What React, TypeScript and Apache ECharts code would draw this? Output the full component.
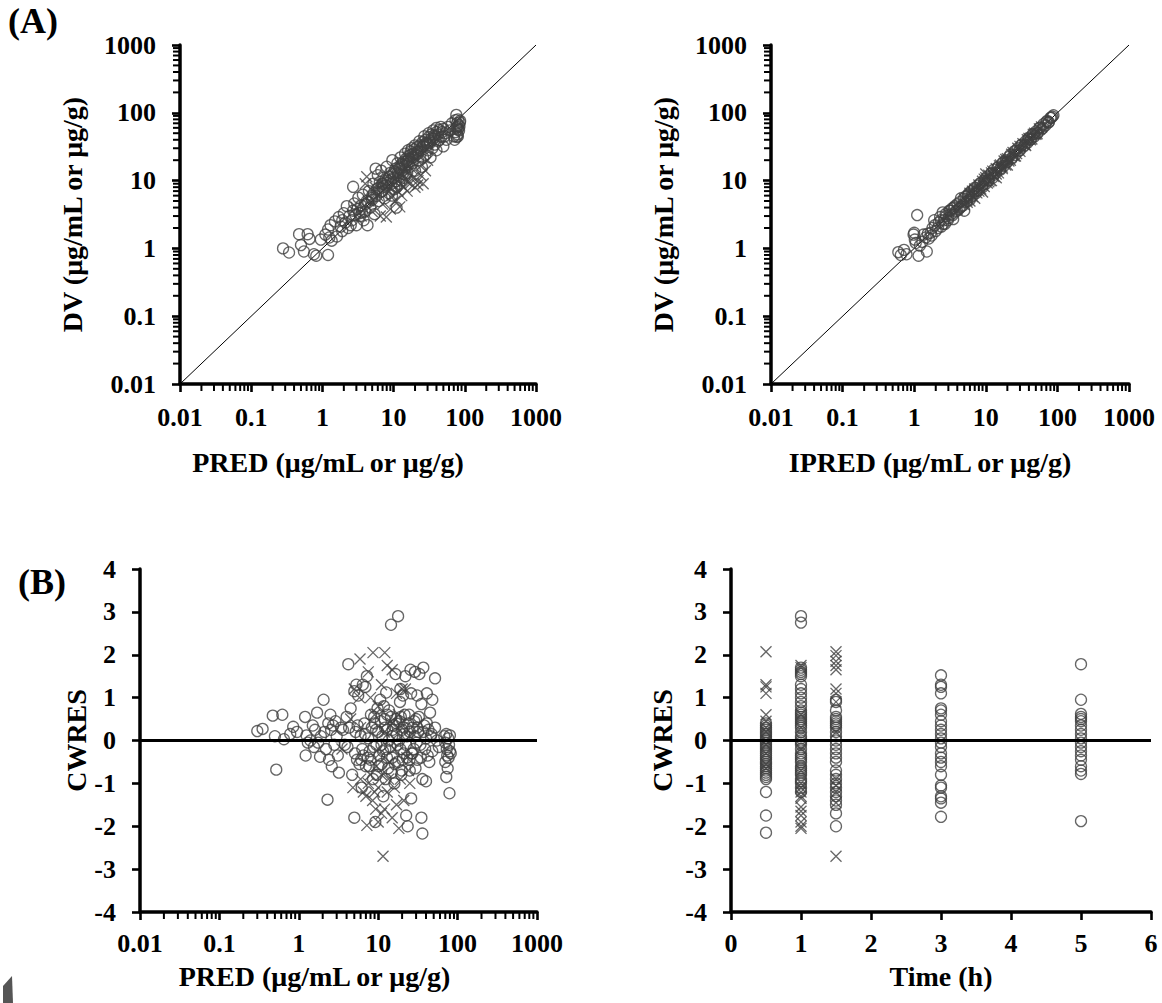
import React, { useEffect, useRef } from 'react';
import * as echarts from 'echarts';

// ---------- tick labels ----------
const LOG_TICK_LABELS = ['0.01', '0.1', '1', '10', '100', '1000'];
const LOG_DECADES = [0.01, 0.1, 1, 10, 100];
const LOG_MINOR_STEPS = [2, 3, 4, 5, 6, 7, 8, 9];
const IDENTITY_LINE = [0.01, 1000];
const PRED_RANGE = [0.01, 1000];
const TIME_RANGE = [0, 6];
const CWRES_RANGE = [-4, 4];

// ---------- (A) left: PRED vs DV ----------
const A1_CIRCLES: [number, number][] = [
  [0.28, 1.0], [0.34, 0.87], [0.47, 1.62], [0.5, 1.12], [0.55, 0.9], [0.62, 1.62], [0.66, 1.38], [0.76, 0.82],
  [0.82, 0.78], [0.95, 1.35], [1.2, 0.8], [1.1, 1.6], [1.2, 1.9], [1.25, 1.45], [1.3, 2.2], [1.35, 1.3],
  [1.5, 2.5], [1.6, 1.5], [1.7, 2.9], [1.8, 2.1], [1.9, 1.8], [2.0, 3.3], [2.1, 2.4], [2.2, 4.2], [2.3, 2.0],
  [2.4, 3.0], [2.7, 8.1], [2.6, 2.6], [2.7, 3.6], [2.8, 4.6], [3.0, 2.2], [3.1, 3.8], [3.2, 5.6], [3.4, 3.0],
  [3.5, 4.3], [3.7, 6.2], [3.8, 2.6], [4.0, 3.5], [4.2, 5.0], [4.3, 2.2], [4.5, 7.0], [4.7, 4.0], [5.0, 6.0],
  [5.2, 9.0], [5.4, 3.2], [5.6, 15], [5.8, 7.5], [6.0, 12], [6.2, 5.0], [6.4, 9.5], [6.7, 14], [7.0, 7.0],
  [7.2, 11], [7.5, 5.5], [7.8, 8.5], [8.0, 16], [8.3, 10], [8.6, 6.5], [9.0, 13], [9.3, 9], [9.6, 20],
  [10, 11], [10.3, 7.5], [10.6, 15], [11, 4.0], [11.3, 18], [11.6, 12], [12, 9], [12.5, 22], [13, 14],
  [13.5, 17], [14, 11], [14.5, 25], [15, 19], [15.5, 13], [16, 28], [16.5, 21], [17, 16], [17.5, 24],
  [18, 30], [18.5, 18], [19, 22], [20, 33], [20, 14], [21, 26], [22, 20], [23, 38], [24, 28], [25, 16],
  [26, 32], [27, 45], [28, 24], [29, 36], [30, 28], [31, 50], [32, 38], [33, 22], [34, 42], [35, 30],
  [36, 55], [37, 46], [38, 34], [40, 60], [40, 28], [42, 48], [44, 40], [46, 62], [48, 52], [50, 32],
  [52, 45], [55, 40], [70, 45], [72, 40], [74, 52], [76, 60], [78, 70], [79, 48], [80, 80], [82, 66],
  [76, 93], [85, 72], [80, 45], [83, 55], [78, 62], [9.5, 6], [11, 8], [13, 10], [15, 12], [7, 9],
  [5, 5.2], [4, 4.5], [3.3, 3.3], [2.5, 2.2], [1.9, 2.6], [12, 15], [16, 20], [22, 25], [26, 22], [30, 35],
  [2.9, 3.1], [3.6, 3.4], [4.4, 4.8], [4.9, 5.5], [5.3, 6.6], [5.7, 5.9], [6.1, 7.8], [6.6, 6.8], [6.9, 9.0],
  [7.3, 8.2], [7.7, 10.5], [8.1, 9.2], [8.8, 11.5], [9.2, 10.2], [9.8, 12.5], [10.2, 13.5], [10.8, 9.8],
  [11.4, 13], [11.9, 16], [12.4, 14.8], [12.9, 17.5], [13.4, 12.5], [13.9, 19], [14.4, 16.5], [14.9, 21],
  [15.6, 17.5], [16.2, 23], [16.8, 19], [17.4, 27], [18.2, 22], [18.9, 25], [19.6, 29], [20.5, 24],
  [21.3, 31], [22.3, 27], [23.3, 33], [24.4, 30], [25.6, 37], [26.8, 34], [28.2, 40], [29.5, 33], [31, 44],
  [32.5, 36], [34, 48], [36, 41], [38, 44], [40, 52], [42, 38], [44, 56], [47, 44], [50, 58], [53, 50],
  [58, 62], [62, 55], [66, 70], [74, 78], [77, 44], [81, 58], [84, 63], [86, 76],
];
const A1_CROSSES: [number, number][] = [
  [3.0, 4.0], [3.5, 3.0], [4.2, 11.4], [4.5, 5], [5, 3.5], [5.5, 8], [6, 6], [6.5, 3.0], [7, 4.5],
  [7.5, 9], [7.9, 2.9], [8.5, 7], [9, 3.8], [9.5, 6], [10, 8.5], [10.5, 5], [11, 11], [11.5, 7],
  [12.2, 4.1], [12.5, 9], [13, 6], [13.5, 12], [14, 8], [15, 10], [15.5, 7], [16, 13], [17, 9], [18, 15],
  [19, 11], [20, 8], [21.8, 8.6], [22, 10], [24, 12], [25, 17], [26, 9], [28, 14], [30, 20], [4.0, 9],
];

// ---------- (A) right: IPRED vs DV ----------
const A2_CIRCLES: [number, number][] = [
  [0.6, 0.88], [0.65, 0.8], [0.72, 0.95], [0.78, 0.82], [0.98, 1.6], [1.0, 1.7], [1.02, 1.35], [1.05, 1.2],
  [1.1, 3.1], [1.15, 0.78], [1.3, 1.25], [1.45, 1.45], [1.5, 0.9], [1.6, 1.4], [1.7, 1.7], [1.8, 2.0],
  [1.9, 2.6], [2.0, 1.8], [2.2, 2.4], [2.3, 2.9], [2.4, 2.1], [2.5, 3.4], [2.6, 2.6], [2.8, 3.0], [3.0, 2.8],
  [3.1, 3.6], [3.3, 3.2], [3.5, 2.7], [3.6, 4.0], [3.8, 3.5], [4.0, 4.5], [4.2, 3.8], [4.5, 5.5], [4.8, 4.3],
  [5.0, 3.6], [5.2, 5.8], [5.5, 5.0], [5.8, 6.5], [6.0, 5.2], [6.3, 7.0], [6.6, 6.0], [7.0, 7.8], [7.3, 6.5],
  [7.7, 8.4], [8.0, 7.2], [8.5, 9.3], [9, 8.0], [9.5, 10], [10, 9], [10.5, 11.5], [11, 10], [12, 13],
  [12.5, 11], [13, 14.5], [14, 13], [15, 16], [16, 14.5], [17, 18], [18, 16.5], [19, 20], [20, 19],
  [22, 24], [23, 21], [25, 27], [26, 24], [28, 30], [30, 28], [32, 34], [34, 32], [36, 38], [38, 36],
  [40, 43], [42, 40], [45, 48], [48, 45], [50, 53], [53, 50], [56, 60], [60, 57], [64, 68], [68, 65],
  [72, 76], [76, 73], [80, 84], [85, 88], [88, 92], [2.7, 2.3], [3.4, 3.9], [4.4, 4.0], [5.6, 6.0],
  [1.2, 1.1], [1.35, 1.6], [1.55, 1.65], [1.75, 1.55], [1.95, 2.2], [2.15, 2.0], [2.35, 2.6], [2.55, 2.3],
  [2.75, 3.2], [2.95, 2.6], [3.2, 3.6], [3.45, 3.1], [3.7, 4.2], [3.95, 3.6], [4.3, 4.8], [4.6, 4.2],
  [4.9, 5.4], [5.3, 4.8], [5.7, 6.2], [6.2, 5.7], [6.8, 7.4], [7.5, 7.0], [8.2, 8.9], [9, 8.5], [9.8, 10.6],
  [10.8, 10.1], [11.8, 12.6], [13, 12.2], [14.5, 15.4], [16, 15], [17.5, 18.6], [19.5, 18.4], [21, 22.4],
  [23.5, 22], [26, 27.6], [29, 27.5], [31, 33], [35, 33.5], [39, 41], [43, 41], [47, 49], [52, 50],
  [58, 61], [63, 60], [70, 73], [75, 72], [82, 85],
];
const A2_CROSSES: [number, number][] = [
  [3, 3.2], [4, 3.7], [5, 5.4], [5.5, 4.8], [6, 6.5], [6.5, 5.8], [7, 7.5], [7.5, 6.6], [8, 8.6], [8.5, 7.5],
  [9, 9.8], [9.5, 8.2], [10, 11], [10.5, 9.2], [11, 12], [11.5, 10], [12, 13], [13, 11.5], [14, 15], [15, 13],
  [16, 17], [17, 15], [18, 19.5], [19, 17], [20, 21], [22, 20], [24, 26], [26, 23], [28, 30], [30, 27],
  [33, 35], [36, 33], [40, 42], [44, 41], [48, 50], [52, 49], [56, 58], [7, 5.5], [9, 6.8], [14, 11],
  [10, 12.5], [12, 10], [6, 5.0], [20, 17], [25, 23], [5, 4.4], [6.5, 7.0], [8, 7.0], [9.5, 10.5],
  [11, 9.6], [12.5, 13.8], [14, 12.5], [15.5, 16.5], [17, 15.8], [19, 20.5], [21, 19.5], [23, 24.5],
  [27, 25], [30, 32], [35, 34], [38, 40], [42, 40], [46, 48], [50, 48], [60, 62],
];

// ---------- (B) left: PRED vs CWRES ----------
const B1_CIRCLES: [number, number][] = [
  [0.3, 0.22], [0.35, 0.27], [0.47, 0.58], [0.5, 0.1], [0.52, -0.68], [0.62, 0.6], [0.65, 0.03], [0.78, 0.15],
  [0.85, 0.32], [0.95, 0.2], [1.2, 0.55], [1.22, -0.35], [1.25, 0.12], [1.3, -0.05], [1.4, 0.0], [1.5, 0.35],
  [1.55, -0.15], [1.6, 0.25], [1.7, 0.65], [1.75, -0.05], [1.85, -0.38], [1.9, 0.1], [2.05, 0.95], [2.1, 0.2],
  [2.2, -0.2], [2.3, -1.38], [2.35, 0.4], [2.4, -0.45], [2.5, 0.6], [2.55, 0.25], [2.6, -0.6], [2.7, 0.35],
  [2.8, -0.1], [2.9, 0.45], [3.0, 0.1], [3.1, -0.35], [3.2, -0.75], [3.4, 0.3], [3.6, 0.25], [3.8, -0.1],
  [4.0, 0.55], [4.1, -0.15], [4.2, 1.78], [4.3, 0.3], [4.5, 0.75], [4.7, -0.8], [5.0, 1.15], [5.1, -0.3],
  [5.2, 0.2], [5.4, -0.45], [5.0, -1.8], [5.6, 1.05], [5.8, -0.55], [6.0, 0.1], [6.2, -1.1], [6.4, 1.3],
  [6.5, -0.35], [6.7, 0.4], [6.9, 1.25], [7.0, -0.6], [7.2, 1.5], [7.5, 0.05], [7.8, -0.25], [8.0, -0.45],
  [8.3, 0.3], [8.6, -0.9], [8.9, 0.55], [9.2, -1.9], [9.5, -0.1], [9.8, 0.75], [10, 0.2], [10.3, -0.35],
  [10.6, 0.95], [11, -0.55], [11.3, 0.1], [11.6, -1.3], [12, 0.5], [12.3, -0.2], [12.6, 1.12], [13, 0.25],
  [13.3, -0.65], [13.6, 0.0], [14.5, 2.7], [14.5, 0.55], [15, -0.4], [15.5, 0.35], [16, -1.0], [16.5, 1.55],
  [17, 0.15], [17.5, -0.1], [17.8, 2.9], [18, -0.5], [18.5, 0.45], [19, 1.2], [19.5, -0.8], [20, 0.25],
  [20.5, 1.05], [21, -0.3], [21.5, 0.6], [22, 1.5], [22.5, -1.75], [23, 0.1], [23.5, -2.0], [24, 0.4],
  [25, -0.7], [25.5, 1.65], [26, -1.35], [27, 0.3], [28, -0.2], [29, 1.6], [30, 0.5], [31, -0.45],
  [32, 0.2], [33, 1.55], [34, -0.1], [35, 0.85], [36, -0.9], [37, 1.7], [38, 0.35], [35, -1.8],
  [40, -0.95], [40, 0.05], [41, 1.1], [42, -0.35], [43, 0.25], [45, 0.65], [36, -2.17], [47, 0.15],
  [48, -0.25], [48, 0.95], [52, 0.3], [52, 1.45], [55, 0.0], [58, -0.15], [68, 0.1], [70, -0.05],
  [70, -0.5], [72, -0.85], [72, 0.15], [73, -0.2], [74, -0.35], [75, -0.65], [76, 0.05], [77, -0.4],
  [78, -0.1], [79, -1.23], [80, 0.12], [80, -0.25], [82, -0.3], [9, 0.4], [11, -0.1], [13, 0.6],
  [15, 0.1], [17, 0.4], [19, -0.2], [21, 0.3], [23, -0.4], [25, 0.2], [27, -0.3], [29, 0.1], [31, 0.3],
  [5.5, 0.35], [6.3, -0.2], [6.8, 0.15], [7.4, -0.4], [8.1, 0.6], [8.8, -0.15], [9.4, 0.25], [10.1, -0.6],
  [10.8, 0.45], [11.5, -0.25], [12.2, 0.3], [12.9, -0.4], [13.7, 0.7], [14.2, -0.15], [15.2, 0.25],
  [16.2, -0.55], [16.8, 0.5], [18.3, 0.0], [19.3, 0.55], [20.3, -0.45], [21.3, 0.15], [22.3, -0.1],
  [24.5, 0.6], [26.5, -0.3], [28.5, 0.45], [30.5, -0.05], [32.5, 0.55], [34.5, -0.4], [37, 0.2], [39, -0.2],
  [41, 0.4], [44, -0.5], [46, 0.1], [6.1, -0.45], [7.7, -0.6], [9.6, -0.8], [12.4, -0.9], [14.8, -0.75],
  [19.8, -0.7], [24.8, -0.45], [29.5, -0.65], [5.3, 1.3], [11.8, 0.8], [18.8, 0.9], [26, 1.1], [31, 1.05],
];
const B1_CROSSES: [number, number][] = [
  [5.9, 1.9], [8.6, 2.05], [12.1, 2.05], [11.5, -2.7], [7.2, -1.98], [18.2, -2.05], [5, 1.2], [5.8, 1.0],
  [7.5, 1.6], [11, 1.3], [13, 1.75], [15, 1.65], [17, 1.1], [20, 1.2], [4.8, -1.1], [6, -0.9], [6.5, -1.2],
  [7, -1.3], [7.5, -1.0], [8, -0.8], [8.5, -1.4], [9, -1.2], [9.5, -0.6], [10, -1.1], [10.5, -0.3],
  [11, -0.8], [12, -1.6], [13, -1.2], [14, -0.5], [15, -1.8], [16, -0.2], [17, -1.5], [19, -0.9],
  [21, -1.4], [23, -0.4], [25, -1.0], [6, 0.3], [9, 0.6], [12, 0.2], [15, 0.4], [4.5, 0.5], [3.5, -0.2],
  [20, 0.3], [22, 1.2], [25, 0.1], [8, 1.0], [10, 0.8], [11, -1.7], [9.3, -1.6], [10, -1.9], [13.5, -0.9],
  [16, -1.1], [18, 0.6], [24, -0.7],
];

// ---------- (B) right: Time vs CWRES ----------
const B2_CIRCLES: [number, number][] = [
  [0.5, -2.15], [0.5, -1.75], [0.5, -1.2], [0.5, -0.9], [0.5, -0.85], [0.5, -0.7], [0.5, -0.6], [0.5, -0.5],
  [0.5, -0.4], [0.5, -0.35], [0.5, -0.3], [0.5, -0.25], [0.5, -0.2], [0.5, -0.15], [0.5, -0.1], [0.5, -0.05],
  [0.5, 0], [0.5, 0.05], [0.5, 0.1], [0.5, 0.15], [0.5, 0.2], [0.5, 0.25], [0.5, 0.3], [0.5, 0.35], [0.5, 0.4],
  [0.5, -0.45], [0.5, -0.55], [0.5, -0.65], [0.5, -0.75], [0.5, -0.8],
  [1, 2.9], [1, 2.75], [1, 1.7], [1, 1.65], [1, 1.6], [1, 1.55], [1, 1.5], [1, 1.3], [1, 1.2], [1, 1.1],
  [1, 1.0], [1, 0.9], [1, 0.8], [1, 0.7], [1, 0.65], [1, 0.6], [1, 0.55], [1, 0.5], [1, 0.45], [1, 0.4],
  [1, 0.35], [1, 0.3], [1, 0.2], [1, 0.1], [1, 0.05], [1, 0], [1, -0.05], [1, -0.1], [1, -0.2], [1, -0.3],
  [1, -0.35], [1, -0.4], [1, -0.45], [1, -0.5], [1, -0.6], [1, -0.65], [1, -0.7], [1, -0.75], [1, -0.8],
  [1, -0.9], [1, -0.95], [1, -1.0], [1, -1.1], [1, -1.2],
  [1.5, 0.95], [1.5, 0.9], [1.5, 0.7], [1.5, 0.55], [1.5, 0.5], [1.5, 0.45], [1.5, 0.4], [1.5, 0.35],
  [1.5, 0.3], [1.5, 0.2], [1.5, 0.1], [1.5, 0], [1.5, -0.1], [1.5, -0.2], [1.5, -0.3], [1.5, -0.4],
  [1.5, -0.5], [1.5, -0.7], [1.5, -0.8], [1.5, -0.9], [1.5, -1.0], [1.5, -1.1], [1.5, -1.2], [1.5, -1.3],
  [1.5, -1.4], [1.5, -1.5], [1.5, -1.7], [1.5, -2.0],
  [3, 1.52], [3, 1.3], [3, 1.25], [3, 1.1], [3, 0.75], [3, 0.7], [3, 0.6], [3, 0.45], [3, 0.35], [3, 0.25],
  [3, 0.15], [3, 0.05], [3, -0.05], [3, -0.15], [3, -0.3], [3, -0.4], [3, -0.5], [3, -0.6], [3, -0.8],
  [3, -1.05], [3, -1.1], [3, -1.3], [3, -1.35], [3, -1.45], [3, -1.78],
  [5, 1.78], [5, 0.95], [5, 0.62], [5, 0.55], [5, 0.5], [5, 0.45], [5, 0.35], [5, 0.25], [5, 0.15],
  [5, 0.05], [5, -0.05], [5, -0.15], [5, -0.25], [5, -0.35], [5, -0.45], [5, -0.6], [5, -0.7], [5, -0.78],
  [5, -1.88],
];
const B2_CROSSES: [number, number][] = [
  [0.5, 2.07], [0.5, 1.3], [0.5, 1.25], [0.5, 1.1], [0.5, 0.6], [0.5, 0.45], [0.5, 0.3], [0.5, 0.2],
  [0.5, 0], [0.5, -0.1], [0.5, -0.3], [0.5, -0.55], [0.5, -0.65],
  [1, 1.75], [1, 1.7], [1, 0.6], [1, 0.3], [1, -0.2], [1, -0.7], [1, -1.0], [1, -1.1], [1, -1.2], [1, -1.3],
  [1, -1.35], [1, -1.55], [1, -1.65], [1, -1.75], [1, -1.9], [1, -2.0], [1, -2.05],
  [1.5, 2.07], [1.5, 1.98], [1.5, 1.85], [1.5, 1.75], [1.5, 1.65], [1.5, 1.2], [1.5, 1.1], [1.5, 0.9],
  [1.5, 0.2], [1.5, -0.9], [1.5, -1.05], [1.5, -1.2], [1.5, -1.45], [1.5, -2.7],
];

const FONT = 'Liberation Serif';
const MARK = '#404040';
const CROSS = 'path://M0,0L10,10M10,0L0,10';

const minorValues = LOG_DECADES.flatMap((d) => LOG_MINOR_STEPS.map((m) => +(d * m).toPrecision(3)));

const logFormatter = (v: number) => LOG_TICK_LABELS[Math.round(Math.log10(v)) + 2];

const labelStyle = (margin: number) => ({
  margin,
  fontFamily: FONT,
  fontWeight: 'bold',
  fontSize: 26,
  color: '#000',
  showMinLabel: true,
  showMaxLabel: true,
  hideOverlap: false,
});
const nameStyle = (shiftLeft: number) => ({
  fontFamily: FONT, fontWeight: 'bold', fontSize: 28, color: '#000',
  padding: [0, shiftLeft * 2, 0, 0],
});
const mkAxisLine = () => ({ show: true, onZero: false, lineStyle: { color: '#000', width: 3.5 } });
const mkAxisTick = () => ({ show: true, inside: false, length: 8, lineStyle: { color: '#000', width: 2.6 } });

function logAxis(gridIndex: number, name: string, nameGap: number, margin: number, shiftLeft = 0) {
  return {
    type: 'log', logBase: 10, gridIndex, min: PRED_RANGE[0], max: PRED_RANGE[1], splitNumber: 5,
    name, nameLocation: 'middle', nameGap, nameTextStyle: nameStyle(shiftLeft),
    axisLine: mkAxisLine(), axisTick: mkAxisTick(), splitLine: { show: false }, minorTick: { show: false },
    axisLabel: { ...labelStyle(margin), formatter: logFormatter },
  };
}

function valueAxis(gridIndex: number, name: string, nameGap: number, margin: number, range: number[]) {
  return {
    type: 'value', gridIndex, min: range[0], max: range[1], interval: 1,
    name, nameLocation: 'middle', nameGap, nameTextStyle: nameStyle(0),
    axisLine: mkAxisLine(), axisTick: mkAxisTick(), splitLine: { show: false },
    axisLabel: labelStyle(margin),
  };
}

function minorTicksX(idx: number, yAt: number) {
  return {
    type: 'custom', xAxisIndex: idx, yAxisIndex: idx, silent: true, clip: false, z: 5,
    data: minorValues.map((v) => [v, yAt]),
    renderItem: (_p: any, api: any) => {
      const p = api.coord([api.value(0), api.value(1)]);
      return { type: 'line', shape: { x1: p[0], y1: p[1], x2: p[0], y2: p[1] + 7 }, style: { stroke: '#000', lineWidth: 2 } };
    },
  };
}
function minorTicksY(idx: number, xAt: number) {
  return {
    type: 'custom', xAxisIndex: idx, yAxisIndex: idx, silent: true, clip: false, z: 5,
    data: minorValues.map((v) => [xAt, v]),
    renderItem: (_p: any, api: any) => {
      const p = api.coord([api.value(0), api.value(1)]);
      return { type: 'line', shape: { x1: p[0] - 7, y1: p[1], x2: p[0], y2: p[1] }, style: { stroke: '#000', lineWidth: 2 } };
    },
  };
}

function circles(idx: number, data: [number, number][]) {
  return {
    type: 'scatter', xAxisIndex: idx, yAxisIndex: idx, data, symbol: 'circle', symbolSize: 11, silent: true, z: 2,
    itemStyle: { color: 'transparent', borderColor: MARK, borderWidth: 1.3 },
  };
}
function crosses(idx: number, data: [number, number][]) {
  return {
    type: 'scatter', xAxisIndex: idx, yAxisIndex: idx, data, symbol: CROSS, symbolSize: 11, silent: true, z: 2,
    itemStyle: { color: 'transparent', borderColor: MARK, borderWidth: 1.3 },
  };
}
function refLine(idx: number, data: number[][], width: number, z: number) {
  return {
    type: 'line', xAxisIndex: idx, yAxisIndex: idx, data, symbol: 'none', silent: true, z,
    lineStyle: { color: '#000', width },
  };
}

const option = {
  animation: false,
  backgroundColor: '#fff',
  grid: [
    { left: 180, top: 45, width: 356, height: 339 },
    { left: 771, top: 45, width: 358, height: 339 },
    { left: 140, top: 569, width: 397, height: 343 },
    { left: 731, top: 569, width: 420, height: 343 },
  ],
  xAxis: [
    logAxis(0, 'PRED (μg/mL or μg/g)', 64, 20, 30),
    logAxis(1, 'IPRED (μg/mL or μg/g)', 64, 20, 20),
    logAxis(2, 'PRED (μg/mL or μg/g)', 50, 18, 24),
    valueAxis(3, 'Time (h)', 50, 18, TIME_RANGE),
  ],
  yAxis: [
    logAxis(0, 'DV (μg/mL or μg/g)', 94, 24),
    logAxis(1, 'DV (μg/mL or μg/g)', 94, 24),
    valueAxis(2, 'CWRES', 49, 24, CWRES_RANGE),
    valueAxis(3, 'CWRES', 55, 24, CWRES_RANGE),
  ],
  series: [
    refLine(0, [[IDENTITY_LINE[0], IDENTITY_LINE[0]], [IDENTITY_LINE[1], IDENTITY_LINE[1]]], 1, 1),
    circles(0, A1_CIRCLES),
    crosses(0, A1_CROSSES),
    minorTicksX(0, PRED_RANGE[0]),
    minorTicksY(0, PRED_RANGE[0]),
    refLine(1, [[IDENTITY_LINE[0], IDENTITY_LINE[0]], [IDENTITY_LINE[1], IDENTITY_LINE[1]]], 1, 1),
    circles(1, A2_CIRCLES),
    crosses(1, A2_CROSSES),
    minorTicksX(1, PRED_RANGE[0]),
    minorTicksY(1, PRED_RANGE[0]),
    circles(2, B1_CIRCLES),
    crosses(2, B1_CROSSES),
    refLine(2, [[PRED_RANGE[0], 0], [PRED_RANGE[1], 0]], 3, 4),
    minorTicksX(2, CWRES_RANGE[0]),
    circles(3, B2_CIRCLES),
    crosses(3, B2_CROSSES),
    refLine(3, [[TIME_RANGE[0], 0], [TIME_RANGE[1], 0]], 3, 4),
  ],
  graphic: [
    { type: 'text', left: 8, top: 3, style: { text: '(A)', font: `bold 36px "${FONT}"`, fill: '#000' } },
    { type: 'text', left: 18, top: 564, style: { text: '(B)', font: `bold 36px "${FONT}"`, fill: '#000' } },
    { type: 'polygon', shape: { points: [[3, 986], [12, 976], [13, 1003], [3, 1003]] }, style: { fill: '#555' } },
  ],
};

export default function App() {
  const ref = useRef<HTMLDivElement>(null);
  useEffect(() => {
    const chart = echarts.init(ref.current!, null, { renderer: 'svg' });
    chart.setOption(option as any);
    return () => chart.dispose();
  }, []);
  return (
    <div
      ref={ref}
      style={{ position: 'absolute', left: 0, top: 0, width: 1162, height: 1003, background: '#fff' }}
    />
  );
}
